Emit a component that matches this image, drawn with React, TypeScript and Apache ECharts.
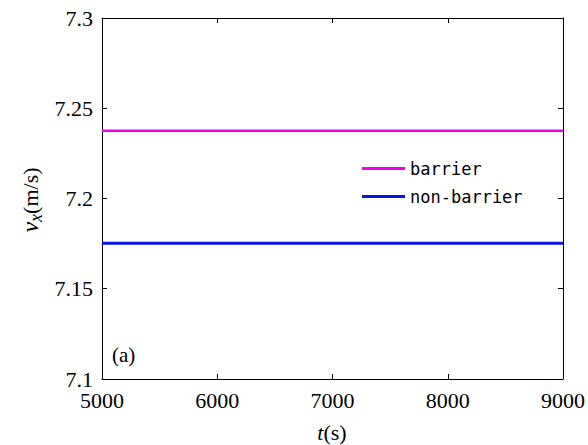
import React, { useEffect, useRef } from "react";
import * as echarts from "echarts";

const times = [5000, 6000, 7000, 8000, 9000];
const barrier = [7.2375, 7.2375, 7.2375, 7.2375, 7.2375];
const nonBarrier = [7.1752, 7.1752, 7.1752, 7.1752, 7.1752];
const seriesNames = ["barrier", "non-barrier"];

const serif = "Liberation Serif";

export default function App() {
  const ref = useRef<HTMLDivElement>(null);
  useEffect(() => {
    if (!ref.current) return;
    const chart = echarts.init(ref.current, undefined, { renderer: "svg" });
    const axisCommon = {
      axisLine: { show: true, lineStyle: { color: "#000", width: 1 } },
      axisTick: { show: true, inside: true, length: 5, lineStyle: { color: "#000" } },
      splitLine: { show: false },
    };
    chart.setOption({
      animation: false,
      backgroundColor: "#fff",
      grid: { left: 102, right: 25, top: 18, bottom: 66, containLabel: false },
      xAxis: [
        {
          type: "value",
          min: 5000,
          max: 9000,
          interval: 1000,
          position: "bottom",
          ...axisCommon,
          axisLabel: {
            color: "#000",
            fontFamily: serif,
            fontSize: 22,
            margin: 10,
            formatter: (v: number) => String(v),
          },
        },
        {
          type: "value",
          min: 5000,
          max: 9000,
          interval: 1000,
          position: "top",
          ...axisCommon,
          axisLabel: { show: false },
        },
      ],
      yAxis: [
        {
          type: "value",
          min: 7.1,
          max: 7.3,
          interval: 0.05,
          position: "left",
          ...axisCommon,
          axisLabel: {
            color: "#000",
            fontFamily: serif,
            fontSize: 22,
            margin: 9,
            formatter: (v: number) => String(parseFloat(v.toFixed(2))),
          },
        },
        {
          type: "value",
          min: 7.1,
          max: 7.3,
          interval: 0.05,
          position: "right",
          ...axisCommon,
          axisLabel: { show: false },
        },
      ],
      legend: {
        orient: "vertical",
        left: 357,
        top: 158,
        itemWidth: 43,
        itemHeight: 3,
        itemGap: 11,
        icon: "rect",
        backgroundColor: "#fff",
        padding: [2, 5, 2, 5],
        textStyle: {
          fontFamily: "DejaVu Sans Mono",
          fontSize: 17,
          color: "#000",
        },
        data: seriesNames,
      },
      series: [
        {
          name: seriesNames[0],
          type: "line",
          data: times.map((t, i) => [t, barrier[i]]),
          symbol: "none",
          lineStyle: { color: "#f000f0", width: 2.5 },
          itemStyle: { color: "#f000f0" },
        },
        {
          name: seriesNames[1],
          type: "line",
          data: times.map((t, i) => [t, nonBarrier[i]]),
          symbol: "none",
          lineStyle: { color: "#0a14e6", width: 3 },
          itemStyle: { color: "#0a14e6" },
        },
      ],
      graphic: [
        {
          type: "text",
          x: 30,
          y: 200,
          rotation: Math.PI / 2,
          style: {
            text: "{v|v}{s|x}{n|(m/s)}",
            align: "center",
            verticalAlign: "middle",
            rich: {
              v: { fontFamily: serif, fontSize: 24, fontStyle: "italic", fill: "#000" },
              s: { fontFamily: serif, fontSize: 18, fontStyle: "italic", fill: "#000", padding: [12, 0, 0, 0] },
              n: { fontFamily: serif, fontSize: 22, fill: "#000" },
            },
          },
        },
        {
          type: "text",
          x: 332,
          y: 432,
          style: {
            text: "{t|t}{n|(s)}",
            align: "center",
            verticalAlign: "middle",
            rich: {
              t: { fontFamily: serif, fontSize: 22, fontStyle: "italic", fill: "#000" },
              n: { fontFamily: serif, fontSize: 22, fill: "#000" },
            },
          },
        },
        {
          type: "text",
          x: 112,
          y: 355,
          style: {
            text: "(a)",
            fontFamily: serif,
            fontSize: 21,
            fill: "#000",
            align: "left",
            verticalAlign: "middle",
          },
        },
      ],
    });
    return () => chart.dispose();
  }, []);
  return <div ref={ref} style={{ width: 588, height: 445, position: "absolute", left: 0, top: 0 }} />;
}
